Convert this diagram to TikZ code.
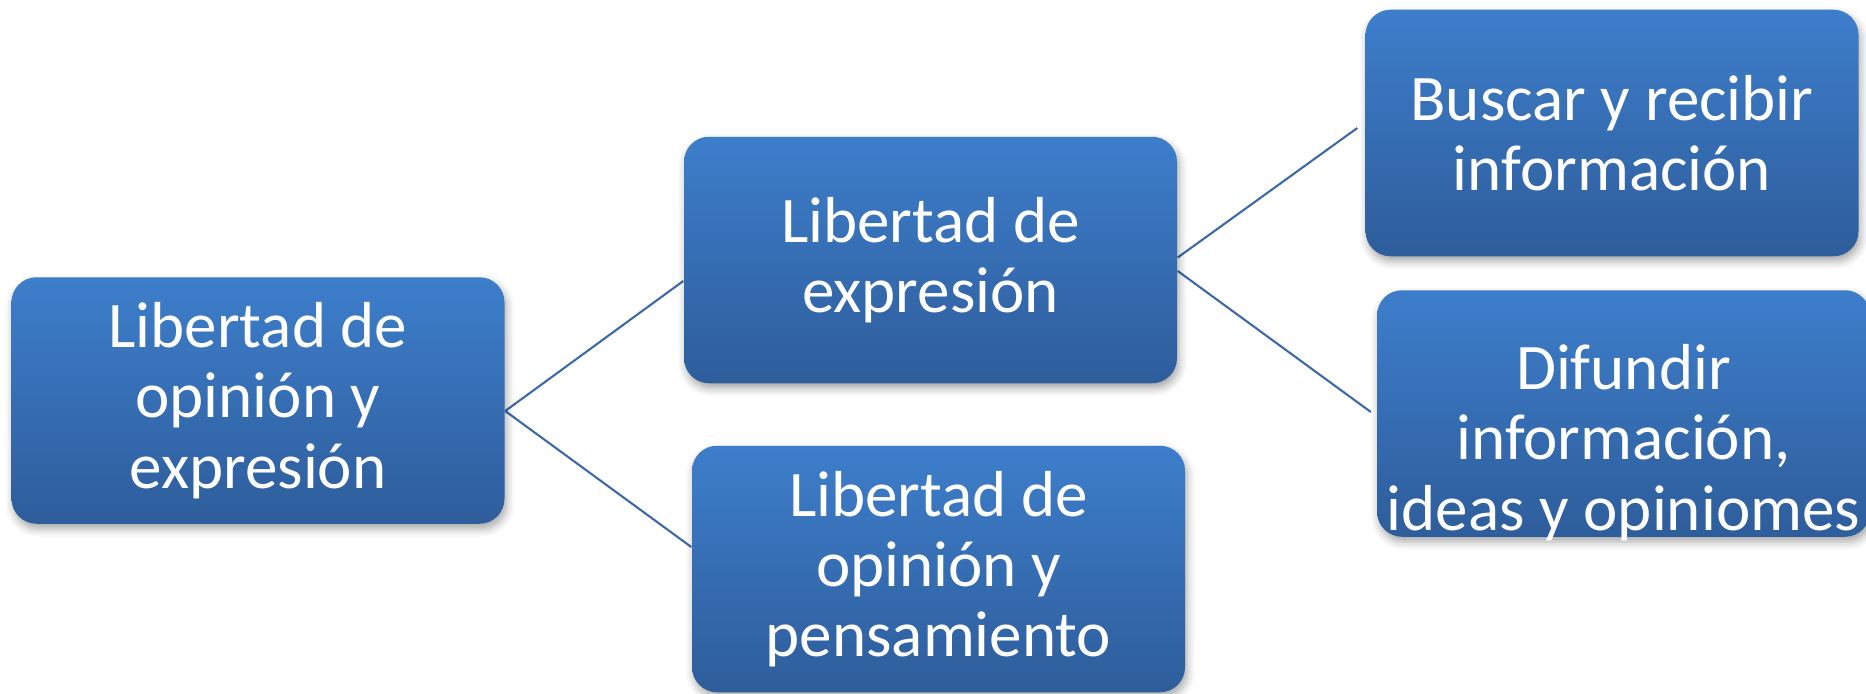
\documentclass[tikz,border=0pt]{standalone}
\usepackage{fontspec}
\setmainfont{Carlito}
\usetikzlibrary{calc,shadows.blur,backgrounds}

\definecolor{boxtop}{RGB}{61,126,203}
\definecolor{boxbot}{RGB}{46,93,155}
\definecolor{linec}{RGB}{62,105,168}

\tikzset{
 box/.style={rectangle, rounded corners=0.25cm, minimum width=4.93cm, minimum height=2.465cm,
   top color=boxtop, bottom color=boxbot, draw=none, text=white, align=center,
   font=\fontsize{18.5}{20}\selectfont, inner sep=0pt,
   blur shadow={shadow xshift=0.02cm, shadow yshift=-0.05cm, shadow blur radius=0.08cm, shadow opacity=35}},
 boxtext/.style={text=white, align=center, font=\fontsize{18.5}{20}\selectfont, inner sep=0pt},
 conn/.style={draw=linec, line width=0.6pt},
}

\begin{document}
\begin{tikzpicture}
\useasboundingbox (0,0) rectangle (18.66,-6.93);

\node[box] (A) at (2.58,-4.005) {Libertad de\\opinión y\\expresión};
\node[box] (B) at (9.305,-2.60) {Libertad de\\expresión};
\node[box] (C) at (9.385,-5.69) {Libertad de\\opinión y\\pensamiento};
\node[box] (D) at (16.12,-1.33) {Buscar y recibir\\información};
\node[box] (E) at (16.235,-4.135) {};
\node[boxtext] (Et) at ($(E.center)+(0,-0.29)$) {Difundir\\información,\\ideas y opiniomes};

\begin{scope}[on background layer]
\draw[conn] ($(A.east)+(0,-0.105)$) -- ($(B.west)+(0,-0.21)$);
\draw[conn] ($(A.east)+(0,-0.105)$) -- ($(C.west)+(0,0.22)$);
\draw[conn] ($(B.east)+(0,0.025)$) -- ($(D.west)+(-0.075,0.05)$);
\draw[conn] ($(B.east)+(0,-0.11)$) -- ($(E.west)+(-0.055,0.015)$);
\end{scope}
\end{tikzpicture}
\end{document}
